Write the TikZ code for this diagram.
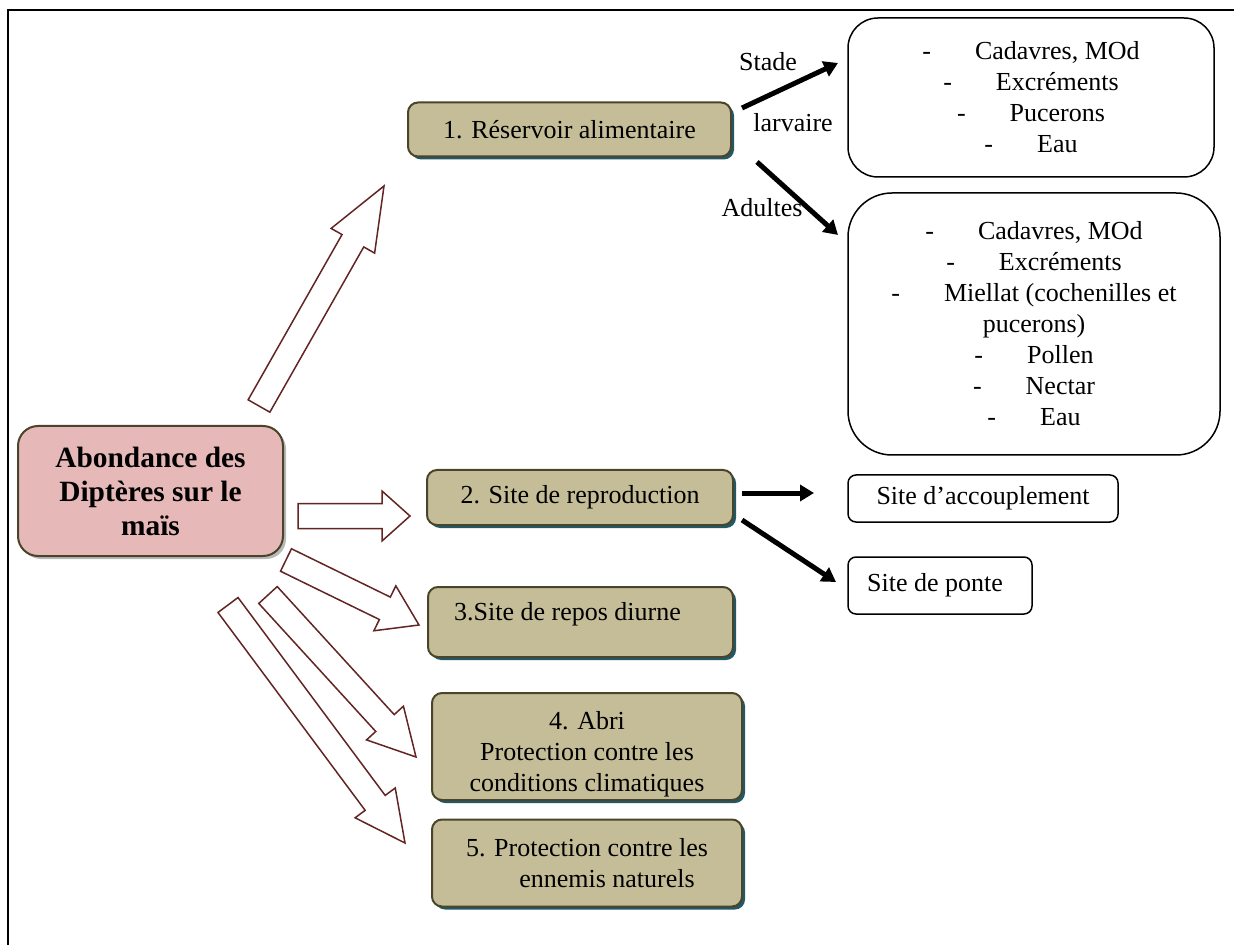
\documentclass[tikz,border=0pt]{standalone}
\usepackage{fontspec}
\setmainfont{Liberation Serif}
\usetikzlibrary{positioning,arrows.meta,calc,shadows}
\definecolor{tanfill}{HTML}{C4BD97}
\definecolor{olivedraw}{HTML}{4A452A}
\definecolor{tealshade}{HTML}{215968}
\definecolor{pinkfill}{HTML}{E6B9B8}
\definecolor{arrowred}{HTML}{632523}
\newcommand{\itm}[1]{-\hspace{22pt}#1}
% hollow block arrow: tail, tip, shaft half width, head half width, head length
\newcommand{\fatarrow}[5]{%
  \coordinate (fa-n) at ($(#2)!#5!(#1)$);
  \draw[hollow] ($(#1)!#3!90:(#2)$) -- ($(fa-n)!#3!90:(#2)$) -- ($(fa-n)!#4!90:(#2)$) -- (#2)
    -- ($(fa-n)!#4!-90:(#2)$) -- ($(fa-n)!#3!-90:(#2)$) -- ($(#1)!#3!-90:(#2)$) -- cycle;}

\begin{document}
\begin{tikzpicture}[x=0.5pt,y=-0.5pt,
  every node/.style={font=\fontsize{13}{15.5}\selectfont, align=center, inner sep=2pt},
  tanbox/.style={draw=olivedraw, line width=1pt, fill=tanfill, rounded corners=5pt,
    general shadow={fill=tealshade, shadow xshift=1.5pt, shadow yshift=-1.5pt}},
  mainbox/.style={draw=olivedraw, line width=1pt, fill=pinkfill, rounded corners=10pt,
    minimum width=132.5pt, minimum height=65pt, font=\fontsize{14.7}{17}\selectfont\bfseries,
    general shadow={fill=gray!55, shadow xshift=1.5pt, shadow yshift=-1.5pt}},
  listbox/.style={draw, line width=0.75pt, fill=white},
  hollow/.style={draw=arrowred, line width=0.75pt, fill=white, line join=miter},
  blk/.style={line width=2.5pt, -{Triangle[length=7pt,width=8pt]}}]
  \useasboundingbox (0,0) rectangle (1234,945);
  \draw[line width=1pt] (8,945) -- (8,10) -- (1234,10);

  % hollow arrows out of the main box
  \foreach \n/\tx/\ty/\hx/\hy/\l in {1/259/406/384/186/31.5pt, 2/298/516/410/516/14pt,
      3/286/560/419/625/19pt, 4/268/595/416/757/23pt, 5/228/605/405/843/25pt}{
    \coordinate (t\n) at (\tx,\ty); \coordinate (h\n) at (\hx,\hy);
    \fatarrow{t\n}{h\n}{6.25pt}{12.5pt}{\l}
  }

  \node[mainbox] (abond) at (150.5,491) {Abondance des\\Diptères sur le\\maïs};

  \node[tanbox, minimum width=161.5pt, minimum height=27pt] (res) at (569.5,129.5) {1. Réservoir alimentaire};
  \node[tanbox, minimum width=153pt, minimum height=27.5pt] (repro) at (580,497.5) {2. Site de reproduction};
  \node[tanbox, minimum width=152.5pt, minimum height=35pt, text depth=11pt] (repos) at (580.5,622) {3.Site de repos diurne\hspace*{13pt}};
  \node[tanbox, minimum width=155pt, minimum height=53.5pt] (abri) at (587,746.5) {};
  \node (abri-t) at (587,754) {4. Abri\\Protection contre les\\conditions climatiques};
  \node[tanbox, minimum width=155pt, minimum height=43.5pt] (ennemis) at (587,863) {5. Protection contre les\\\hspace*{20pt}ennemis naturels};

  \node[listbox, rounded corners=15pt, minimum width=183pt, minimum height=79.5pt] (larv) at (1031,97.5)
    {\itm{Cadavres, MOd}\\\itm{Excréments}\\\itm{Pucerons}\\\itm{Eau}};
  \node[listbox, rounded corners=22pt, minimum width=186pt, minimum height=131pt] (adult) at (1034,324)
    {\itm{Cadavres, MOd}\\\itm{Excréments}\\\itm{Miellat (cochenilles et}\\pucerons)\\\itm{Pollen}\\\itm{Nectar}\\\itm{Eau}};
  \node[listbox, rounded corners=4pt, minimum width=135pt, minimum height=23.5pt] (accoup) at (983,498.5) {Site d’accouplement};
  \node[listbox, rounded corners=4pt, minimum width=92pt, minimum height=28.5pt] (ponte) at (940,585.5) {Site de ponte\hspace*{5pt}};

  \node (stade) at (768,62) {Stade};
  \node (larvaire) at (793,123) {larvaire};
  \node (adultes) at (762,208) {Adultes};

  \coordinate (s1) at (742,108); \coordinate (e1) at (838,63);
  \coordinate (s2) at (757,162); \coordinate (e2) at (838,235);
  \coordinate (s3) at (742,493); \coordinate (e3) at (814,493);
  \coordinate (s4) at (742,520); \coordinate (e4) at (836,582);
  \foreach \n in {1,...,4}{\draw[blk] (s\n) -- (e\n);}
\end{tikzpicture}
\end{document}
